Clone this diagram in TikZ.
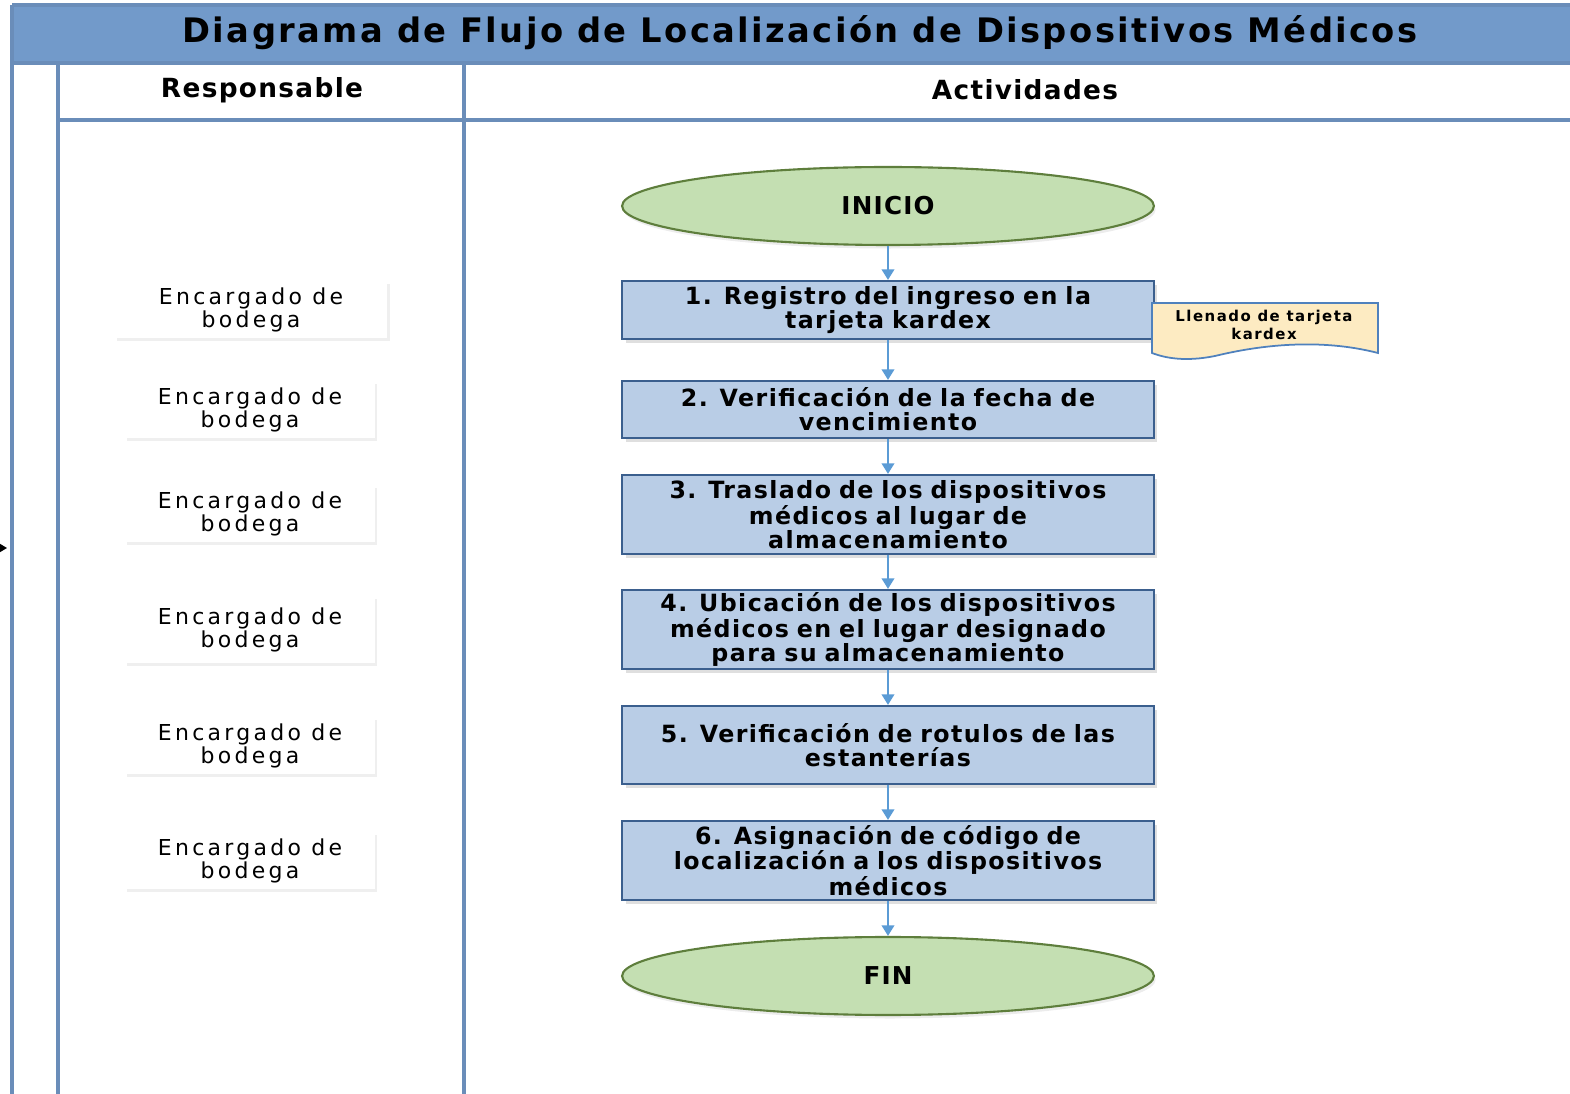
\documentclass[tikz,border=0pt]{standalone}
\usepackage{fontspec}
\setmainfont{DejaVu Sans}
\newfontfamily\titlefont[LetterSpace=7]{DejaVu Sans}
\newfontfamily\headfont[LetterSpace=5]{DejaVu Sans}
\newfontfamily\boxfont[LetterSpace=6]{DejaVu Sans}
\newfontfamily\rolefont[LetterSpace=15]{DejaVu Sans}
\newfontfamily\notefont[LetterSpace=10]{DejaVu Sans}
\usetikzlibrary{shapes.geometric,arrows.meta,shadows}
\definecolor{bandblue}{HTML}{729ACA}
\definecolor{laneline}{HTML}{6A8DB9}
\definecolor{procfill}{HTML}{B9CDE6}
\definecolor{procdraw}{HTML}{3B5F8E}
\definecolor{termfill}{HTML}{C4DFB2}
\definecolor{termdraw}{HTML}{5E7E3C}
\definecolor{arrowblue}{HTML}{5B9BD5}
\definecolor{docfill}{HTML}{FDEBC2}
\definecolor{docdraw}{HTML}{4F81BD}
\tikzset{ term_style/.style = { ellipse % inicio / fin
        , draw = termdraw
        , line width = 1.2pt
        , fill = termfill
        , minimum width = 10.64cm
        , minimum height = 1.56cm
        , drop shadow = {fill=black!15, shadow xshift=1pt, shadow yshift=-2pt}
        , font = \headfont\bfseries\fontsize{14}{16}\selectfont
        }
        , proc_style/.style = { rectangle % actividad
        , draw = procdraw
        , line width = 1.2pt
        , fill = procfill
        , minimum width = 10.62cm
        , text width = 10.4cm
        , inner ysep = 1pt
        , align = center
        , drop shadow = {fill=black!25, shadow xshift=2pt, shadow yshift=-2pt}
        , font = \boxfont\bfseries\fontsize{13.5}{13.6}\selectfont
        }
        , role_style/.style = { rectangle % responsable
        , fill = white
        , minimum width = 5cm
        , minimum height = 1.14cm
        , align = center
        , drop shadow = {fill=black!12, shadow xshift=1.2pt, shadow yshift=-1.5pt}
        , font = \rolefont\fontsize{12.5}{13}\selectfont
        }
        }

\begin{document}
\begin{tikzpicture}[x=0.02cm, y=-0.02cm,
        lane_style/.style={draw=laneline, line width=1.8pt},
        head_style/.style={font=\headfont\bfseries\fontsize{15}{17}\selectfont},
        edge_style/.style={draw=arrowblue, line width=1.4pt, -{Triangle[length=6pt,width=7pt]}}]
        \useasboundingbox (0,0) rectangle (1570,1094);

        % marco y carriles
        \fill [bandblue] (12,5) rectangle (1570,63);
        \draw [lane_style] (12,5) -- (1570,5);
        \draw [lane_style] (12,5) -- (12,1094);
        \draw [lane_style] (12,63) -- (1570,63);
        \draw [lane_style] (58,63) -- (58,1094);
        \draw [lane_style] (464,63) -- (464,1094);
        \draw [lane_style] (58,120) -- (1570,120);

        \node [font=\titlefont\bfseries\fontsize{19.2}{21}\selectfont] (title) at (800,33) {Diagrama de Flujo de Localización de Dispositivos Médicos};
        \node [head_style] (h_resp) at (262,90) {Responsable};
        \node [head_style] (h_act) at (1025,90) {Actividades};

        \coordinate (in_from) at (-8,548);
        \coordinate (in_to) at (7,548);
        \draw [-{Triangle[length=6pt,width=7pt]}, thick] (in_from) -- (in_to);

        % responsables
        \node [role_style, minimum width=5.46cm] (r1) at (251,310) {Encargado de\\bodega};
        \node [role_style] (r2) at (250,410) {Encargado de\\bodega};
        \node [role_style] (r3) at (250,514) {Encargado de\\bodega};
        \node [role_style, minimum height=1.34cm] (r4) at (250,630) {Encargado de\\bodega};
        \node [role_style] (r5) at (250,746) {Encargado de\\bodega};
        \node [role_style] (r6) at (250,861) {Encargado de\\bodega};

        % actividades
        \node [term_style] (inicio) at (888,206) {INICIO};
        \node [proc_style, minimum height=1.16cm] (a1) at (888,310) {1. Registro del ingreso en la\\tarjeta kardex};
        \node [proc_style, minimum height=1.14cm] (a2) at (888,409.5) {2. Verificación de la fecha de\\vencimiento};
        \node [proc_style, minimum height=1.58cm] (a3) at (888,514.5) {3. Traslado de los dispositivos\\médicos al lugar de\\almacenamiento};
        \node [proc_style, minimum height=1.58cm] (a4) at (888,629.5) {4. Ubicación de los dispositivos\\médicos en el lugar designado\\para su almacenamiento};
        \node [proc_style, minimum height=1.56cm] (a5) at (888,745) {5. Verificación de rotulos de las\\estanterías};
        \node [proc_style, minimum height=1.58cm] (a6) at (888,860.5) {6. Asignación de código de\\localización a los dispositivos\\médicos};
        \node [term_style] (fin) at (888,976) {FIN};

        % documento
        \filldraw [fill=docfill, draw=docdraw, line width=1pt] (1152,303) -- (1378,303) -- (1378,353)
            .. controls (1320,338) and (1260,345) .. (1215,356)
            .. controls (1185,362) and (1165,358) .. (1152,353) -- cycle;
        \node [font=\notefont\bfseries\fontsize{8.5}{10}\selectfont, align=center] (doc) at (1264,325) {Llenado de tarjeta\\kardex};

        \draw [edge_style] (inicio) -- (a1);
        \draw [edge_style] (a1) -- (a2);
        \draw [edge_style] (a2) -- (a3);
        \draw [edge_style] (a3) -- (a4);
        \draw [edge_style] (a4) -- (a5);
        \draw [edge_style] (a5) -- (a6);
        \draw [edge_style] (a6) -- (fin);
\end{tikzpicture}
\end{document}
